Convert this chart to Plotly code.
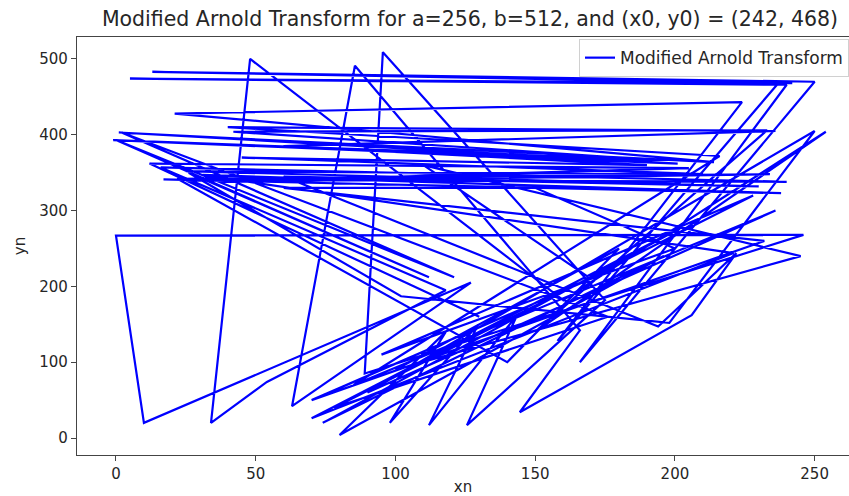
import plotly.graph_objects as go

# Trajectory vertices (estimated)
xn = [242, 5, 240, 166, 250, 13, 237, 158, 224, 21, 214, 1, 201, -1, 192, 42,
      233, 150, 254, 160, 48, 34, 54, 118, 16, 240, 17, 238, 31, 221, 70, 202,
      74, 196, 80, 118, 98, 129.5, 112, 143.5, 125.6, 175, 95.5, 89, 246, 0,
      10, 127, 63, 85.5, 166, 144.5, 206, 222, 194, 60, 230, 25, 210, 45,
      190, 60, 236, 40, 216, 85, 236, 90, 250, 198, 102, 26, 112, 0, 121, 2,
      176, 78, 228, 95, 200, 150, 60, 232, 70, 170, 110, 245, 100, 180, 140,
      22, 234, 38, 205, 12, 130]
yn = [468, 474, 466, 100, 470, 483, 468, 128, 443, 428, 364, 403, 362, 393, 367, 404,
      406, 140, 404, 182, 500, 20, 74, 195, 357, 338, 341, 323, 347, 244, 26, 277,
      20, 240, 4, 140, 20, 149, 17, 162, 17, 182, 509, 85, 268, 267,
      20, 205, 42, 491, 142, 34, 162, 244, 147, 345, 332, 352, 348, 370,
      360, 385, 405, 410, 372, 70, 300, 60, 405, 152, 187, 350, 212, 393, 212, 403,
      160, 40, 320, 110, 250, 330, 330, 260, 50, 210, 360, 240, 90, 250, 100,
      342, 348, 338, 356, 362, 160]

fig = go.Figure()
fig.add_trace(go.Scatter(x=xn, y=yn, mode="lines", name="Modified Arnold Transform",
                         line=dict(color="#0000ff", width=2.2)))

fig.update_layout(
    width=849, height=496,
    margin=dict(l=77, r=0, t=37, b=41, autoexpand=False),
    paper_bgcolor="white", plot_bgcolor="white",
    font=dict(family="DejaVu Sans", size=15, color="#262626"),
    title=dict(text="Modified Arnold Transform for a=256, b=512, and (x0, y0) = (242, 468)",
               x=470/849, xanchor="center", y=0.962, yanchor="middle",
               font=dict(size=20.5, color="#262626")),
    showlegend=True,
    legend=dict(x=1.0, xanchor="right", y=0.995, yanchor="top",
                bgcolor="rgba(255,255,255,0.85)", bordercolor="#d0d0d0", borderwidth=1,
                font=dict(size=17), tracegroupgap=0),
)
fig.update_xaxes(range=[-13.95, 262.3], tickvals=[0, 50, 100, 150, 200, 250],
                 showgrid=False, zeroline=False, showline=True, mirror=True,
                 linecolor="#444", linewidth=1.2, ticks="outside", ticklen=5,
                 tickcolor="#444", tickfont=dict(size=15), automargin=False,
                 title=dict(text="xn", standoff=4, font=dict(size=15)))
fig.update_yaxes(range=[-22.4, 529], tickvals=[0, 100, 200, 300, 400, 500],
                 showgrid=False, zeroline=False, showline=True, mirror=False,
                 linecolor="#444", linewidth=1.2, ticks="outside", ticklen=5,
                 tickcolor="#444", tickfont=dict(size=15), automargin=False,
                 title=dict(text="yn", standoff=10, font=dict(size=15)))
fig.write_html("out.html")
